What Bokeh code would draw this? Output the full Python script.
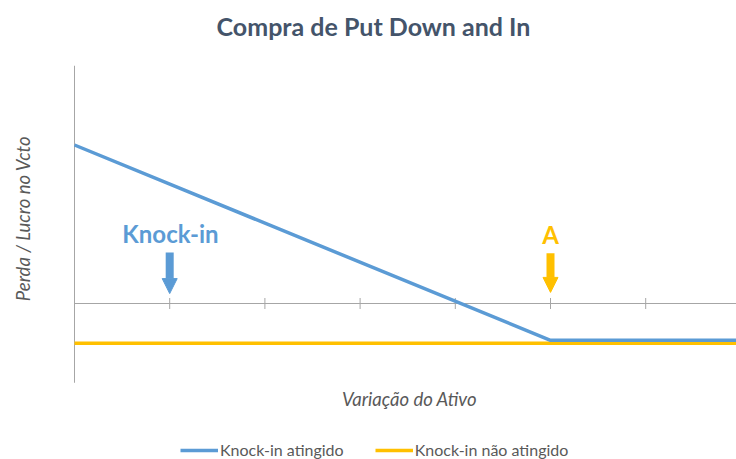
import math
from bokeh.plotting import figure
from bokeh.models import (Range1d, Legend, LegendItem, Arrow, NormalHead, Label)
from bokeh.embed import file_html
from bokeh.resources import INLINE

# ---- data ----
title_text = "Compra de Put Down and In"
x_label = "Variação do Ativo"
y_label = "Perda / Lucro no Vcto"
series_names = ["Knock-in atingido", "Knock-in não atingido"]

x_ticks = [0, 1, 2, 3, 4, 5, 6]
x_blue = [0, 5, 7]
y_blue = [4.0, -0.93, -0.93]
x_yellow = [0, 7]
y_yellow = [-1.0, -1.0]
y_axis_min, y_axis_max = -2, 6

barrier_x = 1          # Knock-in barrier
strike_x = 5           # A
barrier_text = "Knock-in"
strike_text = "A"

BLUE = "#5B9BD5"
YELLOW = "#FFC000"
GREY = "#A6A6A6"
TXT = "#595959"
FONT = "Lato"

# ---- layout (pixels) ----
W, H = 736, 459
X0_PX, Y0_PX = 74, 303          # pixel position of data origin
PX_X, PX_Y = 95.2, 39.625        # pixels per data unit

x_range = Range1d(-X0_PX / PX_X, (W - X0_PX) / PX_X)
y_range = Range1d(-(H - Y0_PX) / PX_Y, Y0_PX / PX_Y)

p = figure(width=W, height=H, x_range=x_range, y_range=y_range,
           output_backend="svg", toolbar_location=None,
           x_axis_type=None, y_axis_type=None,
           min_border_left=0, min_border_right=0, min_border_top=0, min_border_bottom=0)
p.title.visible = False
p.outline_line_color = None
p.grid.visible = False
p.background_fill_color = "white"
p.border_fill_color = "white"

# axes (vertical at x=0, horizontal at y=0 with crossing ticks)
p.segment(x0=[0], y0=[y_axis_min], x1=[0], y1=[y_axis_max], line_color=GREY, line_width=1)
p.segment(x0=[0], y0=[0], x1=[x_range.end], y1=[0], line_color=GREY, line_width=1)
p.scatter(x=x_ticks, y=[0] * len(x_ticks), marker="dash", angle=math.pi / 2, size=11,
          line_color=GREY, line_width=1)

r_yel = p.line(x_yellow, y_yellow, line_color=YELLOW, line_width=3.5)
r_blue = p.line(x_blue, y_blue, line_color=BLUE, line_width=3.5)

# arrows
p.add_layout(Arrow(x_start=barrier_x, y_start=1.29, x_end=barrier_x, y_end=0.25,
                   line_color=BLUE, line_width=8,
                   end=NormalHead(size=15, fill_color=BLUE, line_color=BLUE, line_width=1)))
p.add_layout(Arrow(x_start=strike_x, y_start=1.27, x_end=strike_x, y_end=0.28,
                   line_color=YELLOW, line_width=8,
                   end=NormalHead(size=15, fill_color=YELLOW, line_color=YELLOW, line_width=1)))

def lab(text, sx, sy, size, color, style="normal", angle=0.0):
    p.add_layout(Label(x=sx, y=H - sy, x_units="screen", y_units="screen", text=text,
                       angle=angle, text_align="center", text_baseline="middle",
                       text_font=FONT, text_font_style=style, text_font_size=size,
                       text_color=color))

lab(barrier_text, 170, 233, "24px", BLUE, "bold")
lab(strike_text, 550, 234, "24px", YELLOW, "bold")
lab(title_text, 373, 25, "25px", "#44546A", "bold")
lab(x_label, 409, 398, "18.5px", TXT, "italic")
lab(y_label, 22, 218, "18.5px", TXT, "italic", math.pi / 2)

legend = Legend(items=[LegendItem(label=series_names[0], renderers=[r_blue]),
                       LegendItem(label=series_names[1], renderers=[r_yel])],
                location=(180, 0), orientation="horizontal",
                border_line_color=None, background_fill_alpha=0,
                padding=0, margin=0, spacing=31, glyph_width=38, glyph_height=16,
                label_standoff=2, label_text_font=FONT, label_text_font_size="16px",
                label_text_color=TXT)
p.add_layout(legend, "center")

open("out.html", "w").write(file_html(p, INLINE))
